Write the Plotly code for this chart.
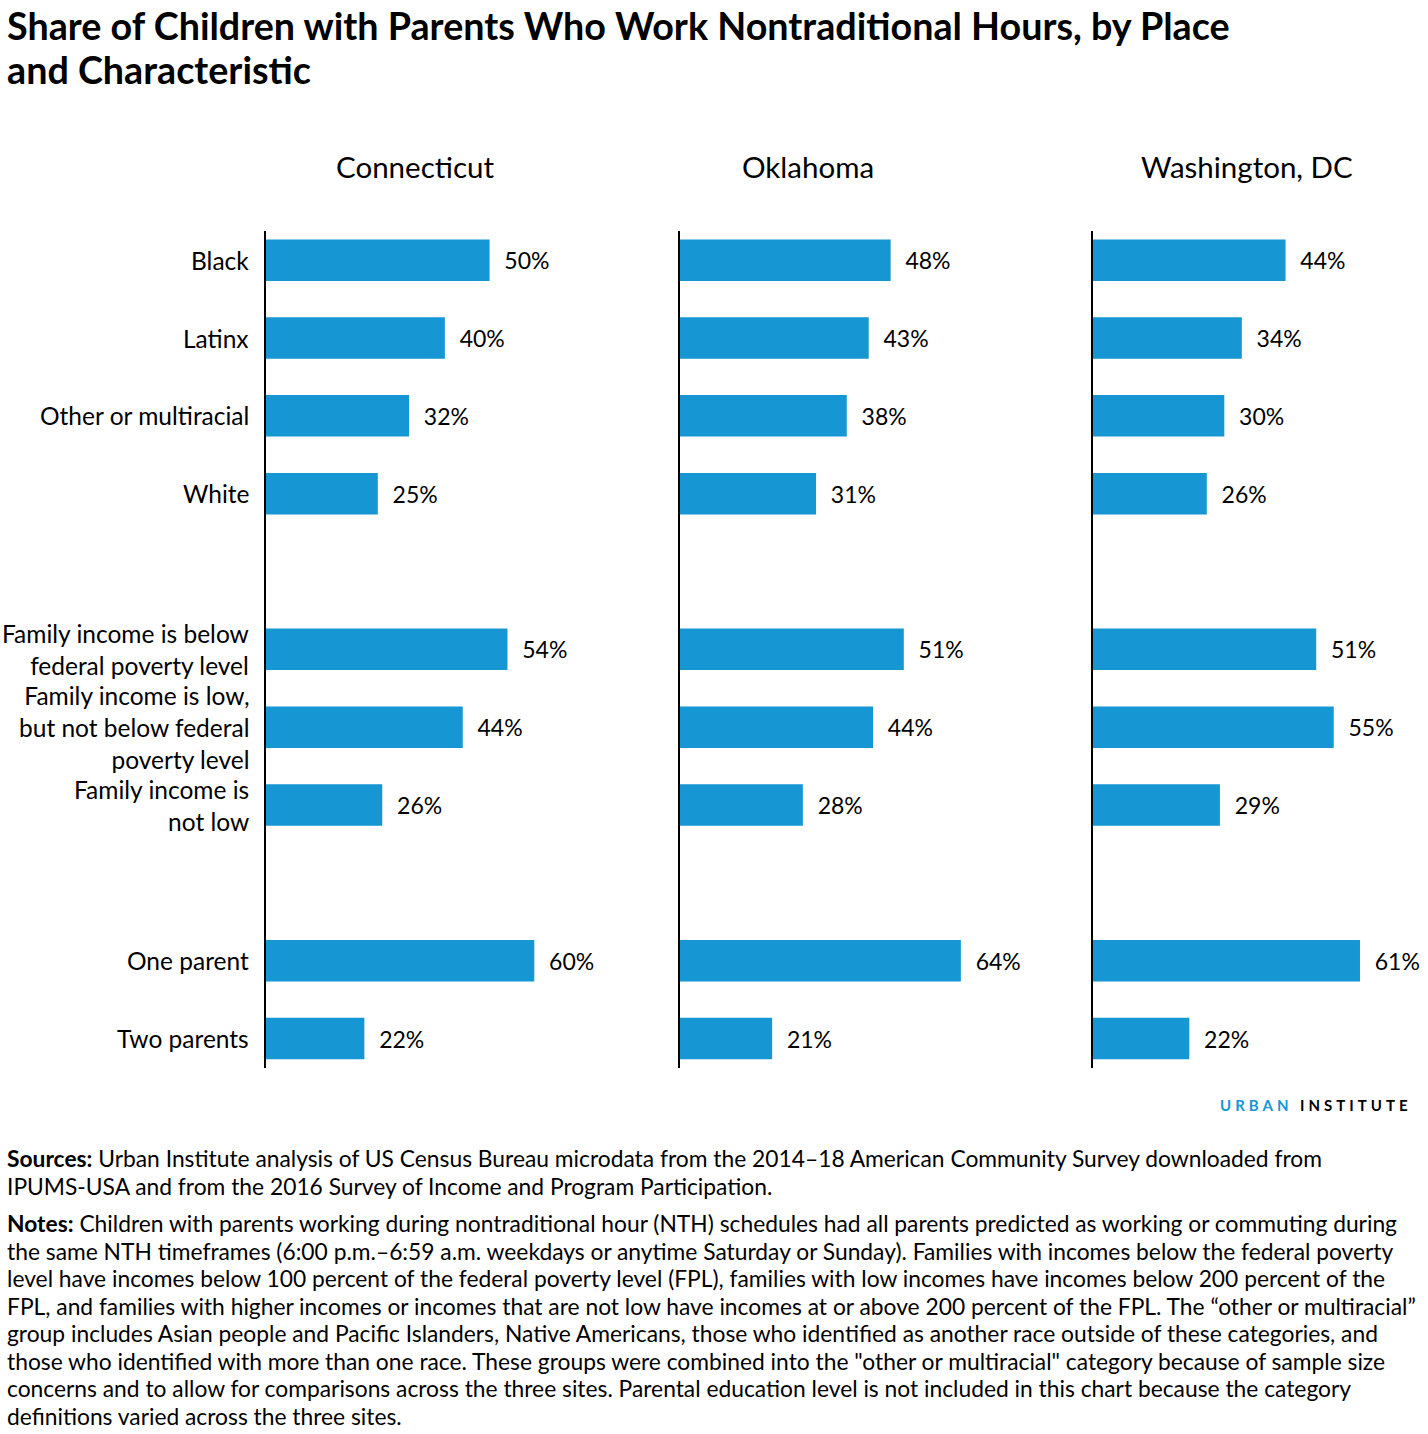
import plotly.graph_objects as go

W, H = 1428, 1434

# ---- data ----
states = ["Connecticut", "Oklahoma", "Washington, DC"]
categories = [
    "Black",
    "Latinx",
    "Other or multiracial",
    "White",
    "Family income is below<br>federal poverty level",
    "Family income is low,<br>but not below federal<br>poverty level",
    "Family income is<br>not low",
    "One parent",
    "Two parents",
]
ct_values = [50, 40, 32, 25, 54, 44, 26, 60, 22]
ok_values = [48, 43, 38, 31, 51, 44, 28, 64, 21]
dc_values = [44, 34, 30, 26, 51, 55, 29, 61, 22]
state_values = [ct_values, ok_values, dc_values]

title_lines = [
    "Share of Children with Parents Who Work Nontraditional Hours, by Place",
    "and Characteristic",
]
sources_lines = [
    "<b>Sources:</b> Urban Institute analysis of US Census Bureau microdata from the 2014–18 American Community Survey downloaded from",
    "IPUMS-USA and from the 2016 Survey of Income and Program Participation.",
]
notes_lines = [
    "<b>Notes:</b> Children with parents working during nontraditional hour (NTH) schedules had all parents predicted as working or commuting during",
    "the same NTH timeframes (6:00 p.m.–6:59 a.m. weekdays or anytime Saturday or Sunday). Families with incomes below the federal poverty",
    "level have incomes below 100 percent of the federal poverty level (FPL), families with low incomes have incomes below 200 percent of the",
    "FPL, and families with higher incomes or incomes that are not low have incomes at or above 200 percent of the FPL. The “other or multiracial”",
    "group includes Asian people and Pacific Islanders, Native Americans, those who identified as another race outside of these categories, and",
    "those who identified with more than one race. These groups were combined into the \"other or multiracial\" category because of sample size",
    "concerns and to allow for comparisons across the three sites. Parental education level is not included in this chart because the category",
    "definitions varied across the three sites.",
]

# row order, with blank spacer rows between groups
SP1, SP2 = " ", "  "
row_order = categories[:4] + [SP1] + categories[4:7] + [SP2] + categories[7:]

BLUE = "#1696d2"
FONT = "Lato"

def px_x(p):
    return p / W

def px_y(p):
    return 1 - p / H

fig = go.Figure()

axis_left = [266, 680, 1093]
panel_w = 330
x_max = [73.8, 75.2, 75.4]
title_cx = [415, 808, 1247]

for i, (st, vals) in enumerate(zip(states, state_values)):
    vmap = dict(zip(categories, vals))
    xs = [vmap.get(r) for r in row_order]
    suffix = "" if i == 0 else str(i + 1)
    fig.add_trace(go.Bar(
        x=xs, y=row_order, orientation="h",
        marker=dict(color=BLUE, line=dict(width=0)),
        texttemplate="\u00a0\u00a0%{x}%",
        textposition="outside",
        textfont=dict(family=FONT, size=23, color="#000000"),
        constraintext="none",
        cliponaxis=False,
        xaxis="x" + suffix, yaxis="y" + suffix,
        showlegend=False, hoverinfo="skip",
    ))
    dom = [px_x(axis_left[i]), px_x(axis_left[i] + panel_w)]
    fig.layout["xaxis" + suffix] = dict(
        domain=dom, range=[0, x_max[i]], showgrid=False, zeroline=False,
        showticklabels=False, showline=False, fixedrange=True,
        anchor="y" + suffix,
    )
    fig.layout["yaxis" + suffix] = dict(
        domain=[px_y(1068), px_y(231)],
        type="category", categoryorder="array", categoryarray=row_order,
        range=[10.379, -0.375],
        showgrid=False, zeroline=False,
        showline=True, linecolor="#000000", linewidth=2,
        showticklabels=False, ticks="",
        anchor="x" + suffix,
    )
    fig.add_annotation(
        text=st, x=px_x(title_cx[i]), y=px_y(167), xref="paper", yref="paper",
        xanchor="center", yanchor="middle", showarrow=False,
        font=dict(family=FONT, size=29.5, color="#000000"),
    )

# category labels (left of first panel)
for cat in categories:
    fig.add_annotation(
        text=cat, x=px_x(251), y=cat, xref="paper", yref="y",
        xanchor="right", yanchor="middle", align="right", showarrow=False,
        font=dict(family=FONT, size=24.5, color="#000000"),
    )

# chart title
for k, line in enumerate(title_lines):
    fig.add_annotation(
        text="<b>" + line + "</b>", x=px_x(5), y=px_y(26 + 44 * k), xref="paper", yref="paper",
        xanchor="left", yanchor="middle", align="left", showarrow=False,
        font=dict(family=FONT, size=37.7, color="#000000"),
    )

# logo text
fig.add_annotation(
    text='<span style="letter-spacing:4px;color:#1696d2"><b>URBAN</b></span>'
         '<span style="letter-spacing:4px"><b> INSTITUTE</b></span>',
    x=px_x(1414), y=px_y(1105), xref="paper", yref="paper",
    xanchor="right", yanchor="middle", showarrow=False,
    font=dict(family=FONT, size=15, color="#000000"),
)

# sources & notes, one annotation per line
NOTE_H = 27.57
for k, line in enumerate(sources_lines):
    fig.add_annotation(
        text=line, x=px_x(5), y=px_y(1158 + NOTE_H * k), xref="paper", yref="paper",
        xanchor="left", yanchor="middle", align="left", showarrow=False,
        font=dict(family=FONT, size=22.8, color="#000000"),
    )
for k, line in enumerate(notes_lines):
    fig.add_annotation(
        text=line, x=px_x(5), y=px_y(1223 + NOTE_H * k), xref="paper", yref="paper",
        xanchor="left", yanchor="middle", align="left", showarrow=False,
        font=dict(family=FONT, size=22.8, color="#000000"),
    )

fig.update_layout(
    width=W, height=H,
    margin=dict(l=0, r=0, t=0, b=0),
    paper_bgcolor="#ffffff", plot_bgcolor="#ffffff",
    bargap=0.467,
    font=dict(family=FONT, color="#000000"),
)

fig.write_html(
    "out.html",
    config={"displayModeBar": False},
    post_script="document.body.style.margin='0';document.body.style.overflow='hidden';",
)
